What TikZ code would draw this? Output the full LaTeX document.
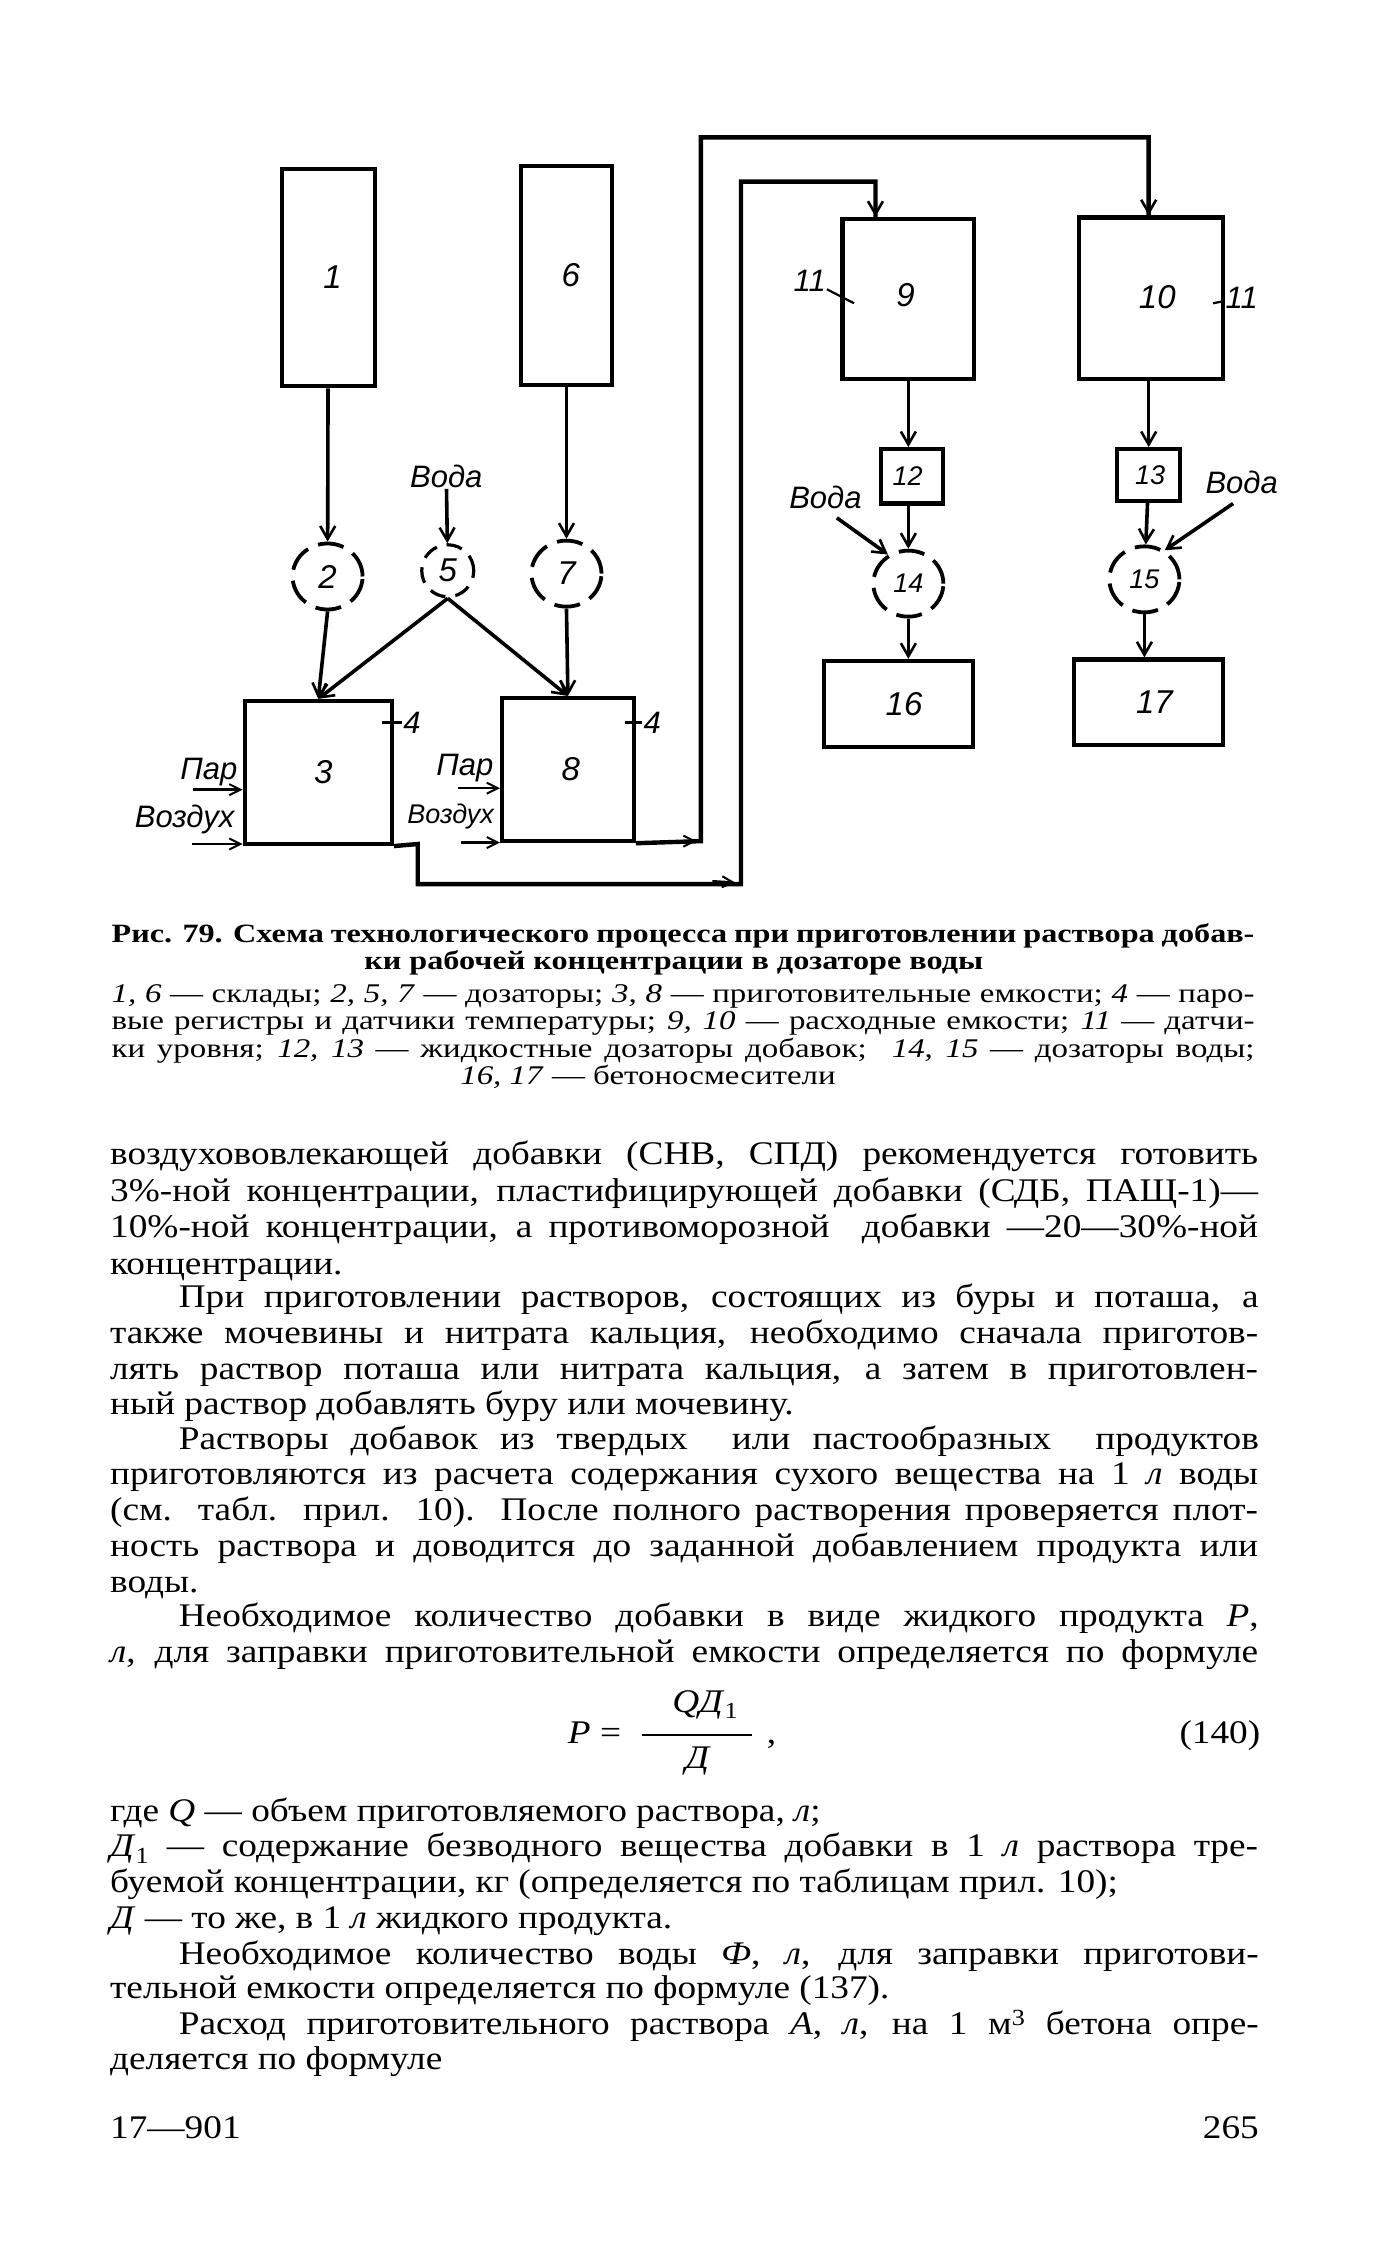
\documentclass[tikz,border=0pt]{standalone}
\usepackage{fontspec}
\setmainfont[FakeStretch=1.13]{Liberation Serif}
\newfontfamily\capfont[FakeStretch=1.22]{Liberation Serif}
\newfontfamily\dia{Liberation Sans}
\usetikzlibrary{arrows.meta,shapes.geometric,calc}
\newcommand\pageline[6]{\node[pl,#1] (#2) at (#3,#4+7) {\hbox to #5pt{#6}};}
\newcommand\freeline[4]{\node[pl] (#1) at (#2,#3+7) {#4};}
\newcommand\blk[7][]{\pgfmathsetmacro\bw{(#5-#3)*1.4305}\pgfmathsetmacro\bh{(#6-#4)*1.4305}%
  \node[blkn,minimum width=\bw pt,minimum height=\bh pt,#1] (#2) at ({(#3+#5)/2},{(#4+#6)/2}) {#7};}
% shift a label inside its block, by dx,dy in pixels of the shrunk view
\newcommand\off[3]{\hspace*{\dimexpr #1pt*286/100\relax}\raisebox{\dimexpr -#2pt*143/100\relax}{#3}}
\tikzset{
  pl/.style={anchor=base west,inner sep=0pt,outer sep=0pt,font=\fontsize{33}{35}\selectfont},
  capb/.style={font=\fontsize{26.4}{27}\selectfont\capfont\bfseries},
  capn/.style={font=\fontsize{27}{27}\selectfont\capfont},
  blkn/.style={draw,rectangle,line width=4.2pt,inner sep=0pt,font=\fontsize{33}{33}\selectfont\dia\itshape},
  small/.style={font=\fontsize{27}{27}\selectfont\dia\itshape},
  disc/.style={draw,ellipse,line width=3.8pt,inner sep=0pt,dash pattern=on 26pt off 11pt,font=\fontsize{33}{33}\selectfont\dia\itshape},
  lab/.style={inner sep=1pt,font=\fontsize{31}{31}\selectfont\dia\itshape},
  labs/.style={inner sep=1pt,font=\fontsize{27}{27}\selectfont\dia\itshape},
  flow/.style={line width=3.6pt,-{Straight Barb[length=13pt,width=15pt,line width=2.6pt]}},
  thinflow/.style={line width=2.4pt,-{Straight Barb[length=11pt,width=11pt,line width=2pt]}},
  pipe/.style={line width=4.4pt,miter limit=10},
  tick/.style={line width=2.2pt}
}
\begin{document}
\begin{tikzpicture}[x=1.4305pt,y=-1.4305pt]
\fill[white] (0,0) rectangle (971,1567.3);
\useasboundingbox (0,0) rectangle (971,1567.3);
% blocks
\blk{b1}{197}{118}{262}{270}{\off{3}{4}{1}}
\blk{b6}{364}{116}{428}{269}{\off{3}{7}{6}}
\blk{b3}{171}{490}{274}{590}{\off{3.5}{1}{3}}
\blk{b8}{351}{488}{443}{588}{\off{2}{5}{8}}
\blk{b9}{589}{153}{681}{265}{\off{-2}{-5}{9}}
\blk{b10}{754}{152}{855}{265}{\off{4.5}{-2}{10}}
\blk[small]{b12}{616}{314}{659}{352}{\off{-3}{0}{12}}
\blk[small]{b13}{781}{314}{825}{350}{\off{1}{2}{13}}
\blk{b16}{576}{462}{680}{522}{\off{4}{3}{16}}
\blk{b17}{751}{461}{855}{521}{\off{4}{4}{17}}
% discs
\node[disc,minimum width=70pt,minimum height=66pt] (c2) at (229,403) {2};
\node[disc,minimum width=52pt,minimum height=52pt,line width=3.2pt,dash pattern=on 16pt off 10pt] (c5) at (313,399) {5};
\node[disc,minimum width=70pt,minimum height=66pt] (c7) at (396,401) {7};
\node[disc,small,minimum width=70pt,minimum height=66pt] (c14) at (635,408) {14};
\node[disc,small,minimum width=70pt,minimum height=66pt] (c15) at (800,405) {15};
% labels
\node[lab] (v5) at (312,333) {Вода};
\node[lab] (v14) at (577,348) {Вода};
\node[lab] (v15) at (868,337) {Вода};
\node[lab] (par3) at (146,540) {Пар};
\node[lab] (air3) at (129,573) {Воздух};
\node[lab] (par8) at (325,537) {Пар};
\node[labs] (air8) at (315,571) {Воздух};
\node[lab] (l4a) at (288,505) {4};
\node[lab] (l4b) at (456,505) {4};
\node[lab] (l11a) at (566,196) {11};
\node[lab] (l11b) at (868,208) {11};
% free ends
\coordinate (t4a) at (267,505);
\coordinate (t4b) at (437,505);
\coordinate (t11a) at (597,212);
\coordinate (t11b) at (848,212);
\coordinate (a14) at (585,362);
\coordinate (a15) at (862,352);
\coordinate (ap3) at (135,552);
\coordinate (aa3) at (134,590);
\coordinate (ap8) at (320,551);
\coordinate (aa8) at (322,589);
\coordinate (p1) at (490,588);
\coordinate (p2) at (490,96);
\coordinate (p3) at (803,96);
\coordinate (q1) at (292,590);
\coordinate (q2) at (292,618);
\coordinate (q3) at (518,618);
\coordinate (q4) at (518,127);
\coordinate (q5) at (612,127);
\coordinate (m1) at (474,588);
\coordinate (m2) at (487,588);
\coordinate (n1) at (498,616);
\coordinate (n2) at (514,617);
% connectors
\draw[flow] (b1) -- (c2);
\draw[flow] (b6) -- (c7);
\draw[flow] (v5) -- (c5);
\draw[flow] (c2.south) -- (b3.north);
\draw[flow] (c5.south) -- (b3.north);
\draw[flow] (c5.south) -- (b8.north);
\draw[flow] (c7.south) -- (b8.north);
\draw[flow] (b9.south) -- (b9.south |- b12.north);
\draw[flow] (b9.south |- b12.south) -- (b9.south |- c14.north);
\draw[flow] (c14.south) -- (c14.south |- b16.north);
\draw[flow] (a14) -- (c14.125);
\draw[flow] (b10.south -| p3) -- (b13.north -| p3);
\draw[flow] (b13) -- (c15);
\draw[flow] (c15.south) -- (c15.south |- b17.north);
\draw[flow] (a15) -- (c15.55);
\draw[thinflow] (ap3) -- (ap3 -| b3.west);
\draw[thinflow] (aa3) -- (aa3 -| b3.west);
\draw[thinflow] (ap8) -- (ap8 -| b8.west);
\draw[thinflow] (aa8) -- (aa8 -| b8.west);
\draw[pipe] (b8.south east) -- (p1) -- (p2) -- (p3) -- (p3 |- b10.north);
\draw[pipe] (b3.south east) -- (q1) -- (q2) -- (q3) -- (q4) -- (q5) -- (q5 |- b9.north);
\draw[flow] ($(p3)+(0,30)$) -- (p3 |- b10.north);
\draw[flow] ($(q5)+(0,10)$) -- (q5 |- b9.north);
\draw[thinflow] (m1) -- (m2);
\draw[thinflow] (n1) -- (n2);
\draw[tick] (t4a) -- (l4a);
\draw[tick] (t4b) -- (l4b);
\draw[tick] (l11a) -- (t11a);
\draw[tick] (l11b) -- (t11b);
% caption
\pageline{capb}{cap1}{78}{652}{1143}{Рис. 79. Схема технологического процесса при приготовлении раствора добав-}
\node[pl,capb,anchor=base] (cap2) at (471,678) {ки рабочей концентрации в дозаторе воды};
\pageline{capn}{leg1}{78}{694}{1143}{\textit{1, 6} — склады; \textit{2, 5, 7} — дозаторы; \textit{3, 8} — приготовительные емкости; \textit{4} — паро-}
\pageline{capn}{leg2}{78}{713}{1143}{вые регистры и датчики температуры; \textit{9, 10} — расходные емкости; \textit{11} — датчи-}
\pageline{capn}{leg3}{78}{732}{1143}{ки уровня; \textit{12, 13} — жидкостные дозаторы добавок; \ \textit{14, 15} — дозаторы воды;}
\node[pl,capn,anchor=base] (leg4) at (453,758) {\textit{16, 17} — бетоносмесители};
% body
\pageline{}{t1}{77}{807}{1148}{воздухововлекающей добавки (СНВ, СПД) рекомендуется готовить}
\pageline{}{t2}{77}{833}{1148}{3\%-ной концентрации, пластифицирующей добавки (СДБ, ПАЩ-1)—}
\pageline{}{t3}{77}{858}{1148}{10\%-ной концентрации, а противоморозной \ добавки —20—30\%-ной}
\freeline{t4}{77}{884}{концентрации.}
\pageline{}{t5}{125}{907}{1080}{При приготовлении растворов, состоящих из буры и поташа, а}
\pageline{}{t6}{77}{932}{1148}{также мочевины и нитрата кальция, необходимо сначала приготов-}
\pageline{}{t7}{77}{957}{1148}{лять раствор поташа или нитрата кальция, а затем в приготовлен-}
\freeline{t8}{77}{982}{ный раствор добавлять буру или мочевину.}
\pageline{}{t9}{125}{1006}{1080}{Растворы добавок из твердых \ или пастообразных \ продуктов}
\pageline{}{t10}{77}{1031}{1148}{приготовляются из расчета содержания сухого вещества на 1 \textit{л} воды}
\pageline{}{t11}{77}{1056}{1148}{(см. табл. прил. 10). После полного растворения проверяется плот-}
\pageline{}{t12}{77}{1081}{1148}{ность раствора и доводится до заданной добавлением продукта или}
\freeline{t13}{77}{1106}{воды.}
\pageline{}{t14}{125}{1130}{1080}{Необходимое количество добавки в виде жидкого продукта \textit{P},}
\pageline{}{t15}{77}{1155}{1148}{\textit{л}, для заправки приготовительной емкости определяется по формуле}
% formula
\node[pl] (fP) at (397,1219) {\textit{P} =};
\node[pl,anchor=base] (fn) at (493,1197) {\textit{QД}\textsubscript{1}};
\node[pl,anchor=base] (fd) at (488,1236) {\textit{Д}};
\coordinate (fa) at (449,1213);
\coordinate (fb) at (526,1213);
\draw[line width=1.6pt] (fa) -- (fb);
\node[pl] (fc) at (536,1219) {,};
\node[pl,anchor=base east] (feq) at (881,1219) {(140)};
\freeline{t16}{77}{1266}{где \textit{Q} — объем приготовляемого раствора, \textit{л};}
\pageline{}{t17}{77}{1291}{1148}{\textit{Д}\textsubscript{1} — содержание безводного вещества добавки в 1 \textit{л} раствора тре-}
\freeline{t18}{77}{1316}{буемой концентрации, кг (определяется по таблицам прил. 10);}
\freeline{t19}{77}{1341}{\textit{Д} — то же, в 1 \textit{л} жидкого продукта.}
\pageline{}{t20}{125}{1366}{1080}{Необходимое количество воды \textit{Ф}, \textit{л}, для заправки приготови-}
\freeline{t21}{77}{1390}{тельной емкости определяется по формуле (137).}
\pageline{}{t22}{125}{1415}{1080}{Расход приготовительного раствора \textit{А}, \textit{л}, на 1 м\textsuperscript{3} бетона опре-}
\freeline{t23}{77}{1440}{деляется по формуле}
\freeline{folL}{77}{1488}{17—901}
\node[pl,anchor=base east] (folR) at (880,1495) {265};
\end{tikzpicture}
\end{document}
